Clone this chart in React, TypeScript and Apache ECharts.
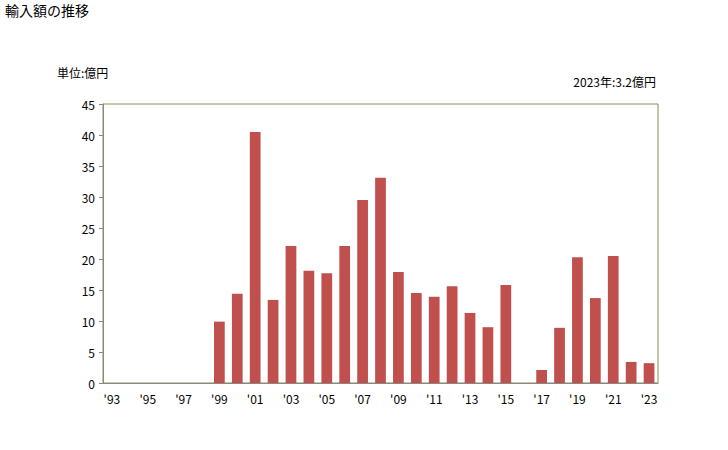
import React, { useEffect, useRef } from "react";
import * as echarts from "echarts";

const years: string[] = [
  "1993", "1994", "1995", "1996", "1997", "1998", "1999", "2000", "2001", "2002",
  "2003", "2004", "2005", "2006", "2007", "2008", "2009", "2010", "2011", "2012",
  "2013", "2014", "2015", "2016", "2017", "2018", "2019", "2020", "2021", "2022", "2023",
];
const importValues: (number | null)[] = [
  null, null, null, null, null, null, 9.9, 14.4, 40.5, 13.4,
  22.1, 18.1, 17.7, 22.1, 29.5, 33.1, 17.9, 14.5, 13.9, 15.6,
  11.3, 9.0, 15.8, null, 2.1, 8.9, 20.3, 13.7, 20.5, 3.4, 3.2,
];
const yTicks = { min: 0, max: 45, interval: 5 };
const titleText = "輸入額の推移";
const unitText = "単位:億円";
const latestText = "2023年:3.2億円";

const FONT = "'Noto Sans CJK JP', 'Noto Sans', sans-serif";

export default function App() {
  const ref = useRef<HTMLDivElement>(null);
  useEffect(() => {
    if (!ref.current) return;
    const chart = echarts.init(ref.current, undefined, { renderer: "svg" });
    chart.setOption({
      animation: false,
      backgroundColor: "#ffffff",
      textStyle: { fontFamily: FONT },
      graphic: [
        { type: "text", left: 5, top: 3, style: { text: titleText, fontSize: 14, fill: "#000", fontFamily: FONT } },
        { type: "text", left: 57, top: 66, style: { text: unitText, fontSize: 12, fill: "#000", fontFamily: FONT } },
        { type: "text", right: 72, top: 75, style: { text: latestText, fontSize: 12, fill: "#000", fontFamily: FONT } },
        {
          type: "rect",
          shape: { x: 103, y: 104, width: 555, height: 279 },
          style: { fill: "none", stroke: "#8c8c50", lineWidth: 1 },
          z: 0,
        },
      ],
      grid: { left: 103, right: 70, top: 104, bottom: 67, containLabel: false },
      xAxis: {
        type: "category",
        data: years,
        axisLine: { lineStyle: { color: "#888888", width: 1 } },
        axisTick: { show: false },
        axisLabel: {
          interval: 1,
          color: "#000",
          fontSize: 12,
          margin: 9,
          formatter: (v: string) => "'" + v.slice(2),
        },
      },
      yAxis: {
        type: "value",
        min: yTicks.min,
        max: yTicks.max,
        interval: yTicks.interval,
        axisLine: { show: true, lineStyle: { color: "#888888", width: 1 } },
        axisTick: { show: true, length: 4, lineStyle: { color: "#888888" } },
        splitLine: { show: false },
        axisLabel: { color: "#000", fontSize: 12, margin: 8 },
      },
      series: [
        {
          type: "bar",
          data: importValues,
          barWidth: "60%",
          itemStyle: { color: "#c0504d" },
          z: 3,
        },
      ],
    });
    return () => chart.dispose();
  }, []);
  return <div ref={ref} style={{ width: 728, height: 450, position: "absolute", left: 0, top: 0 }} />;
}
